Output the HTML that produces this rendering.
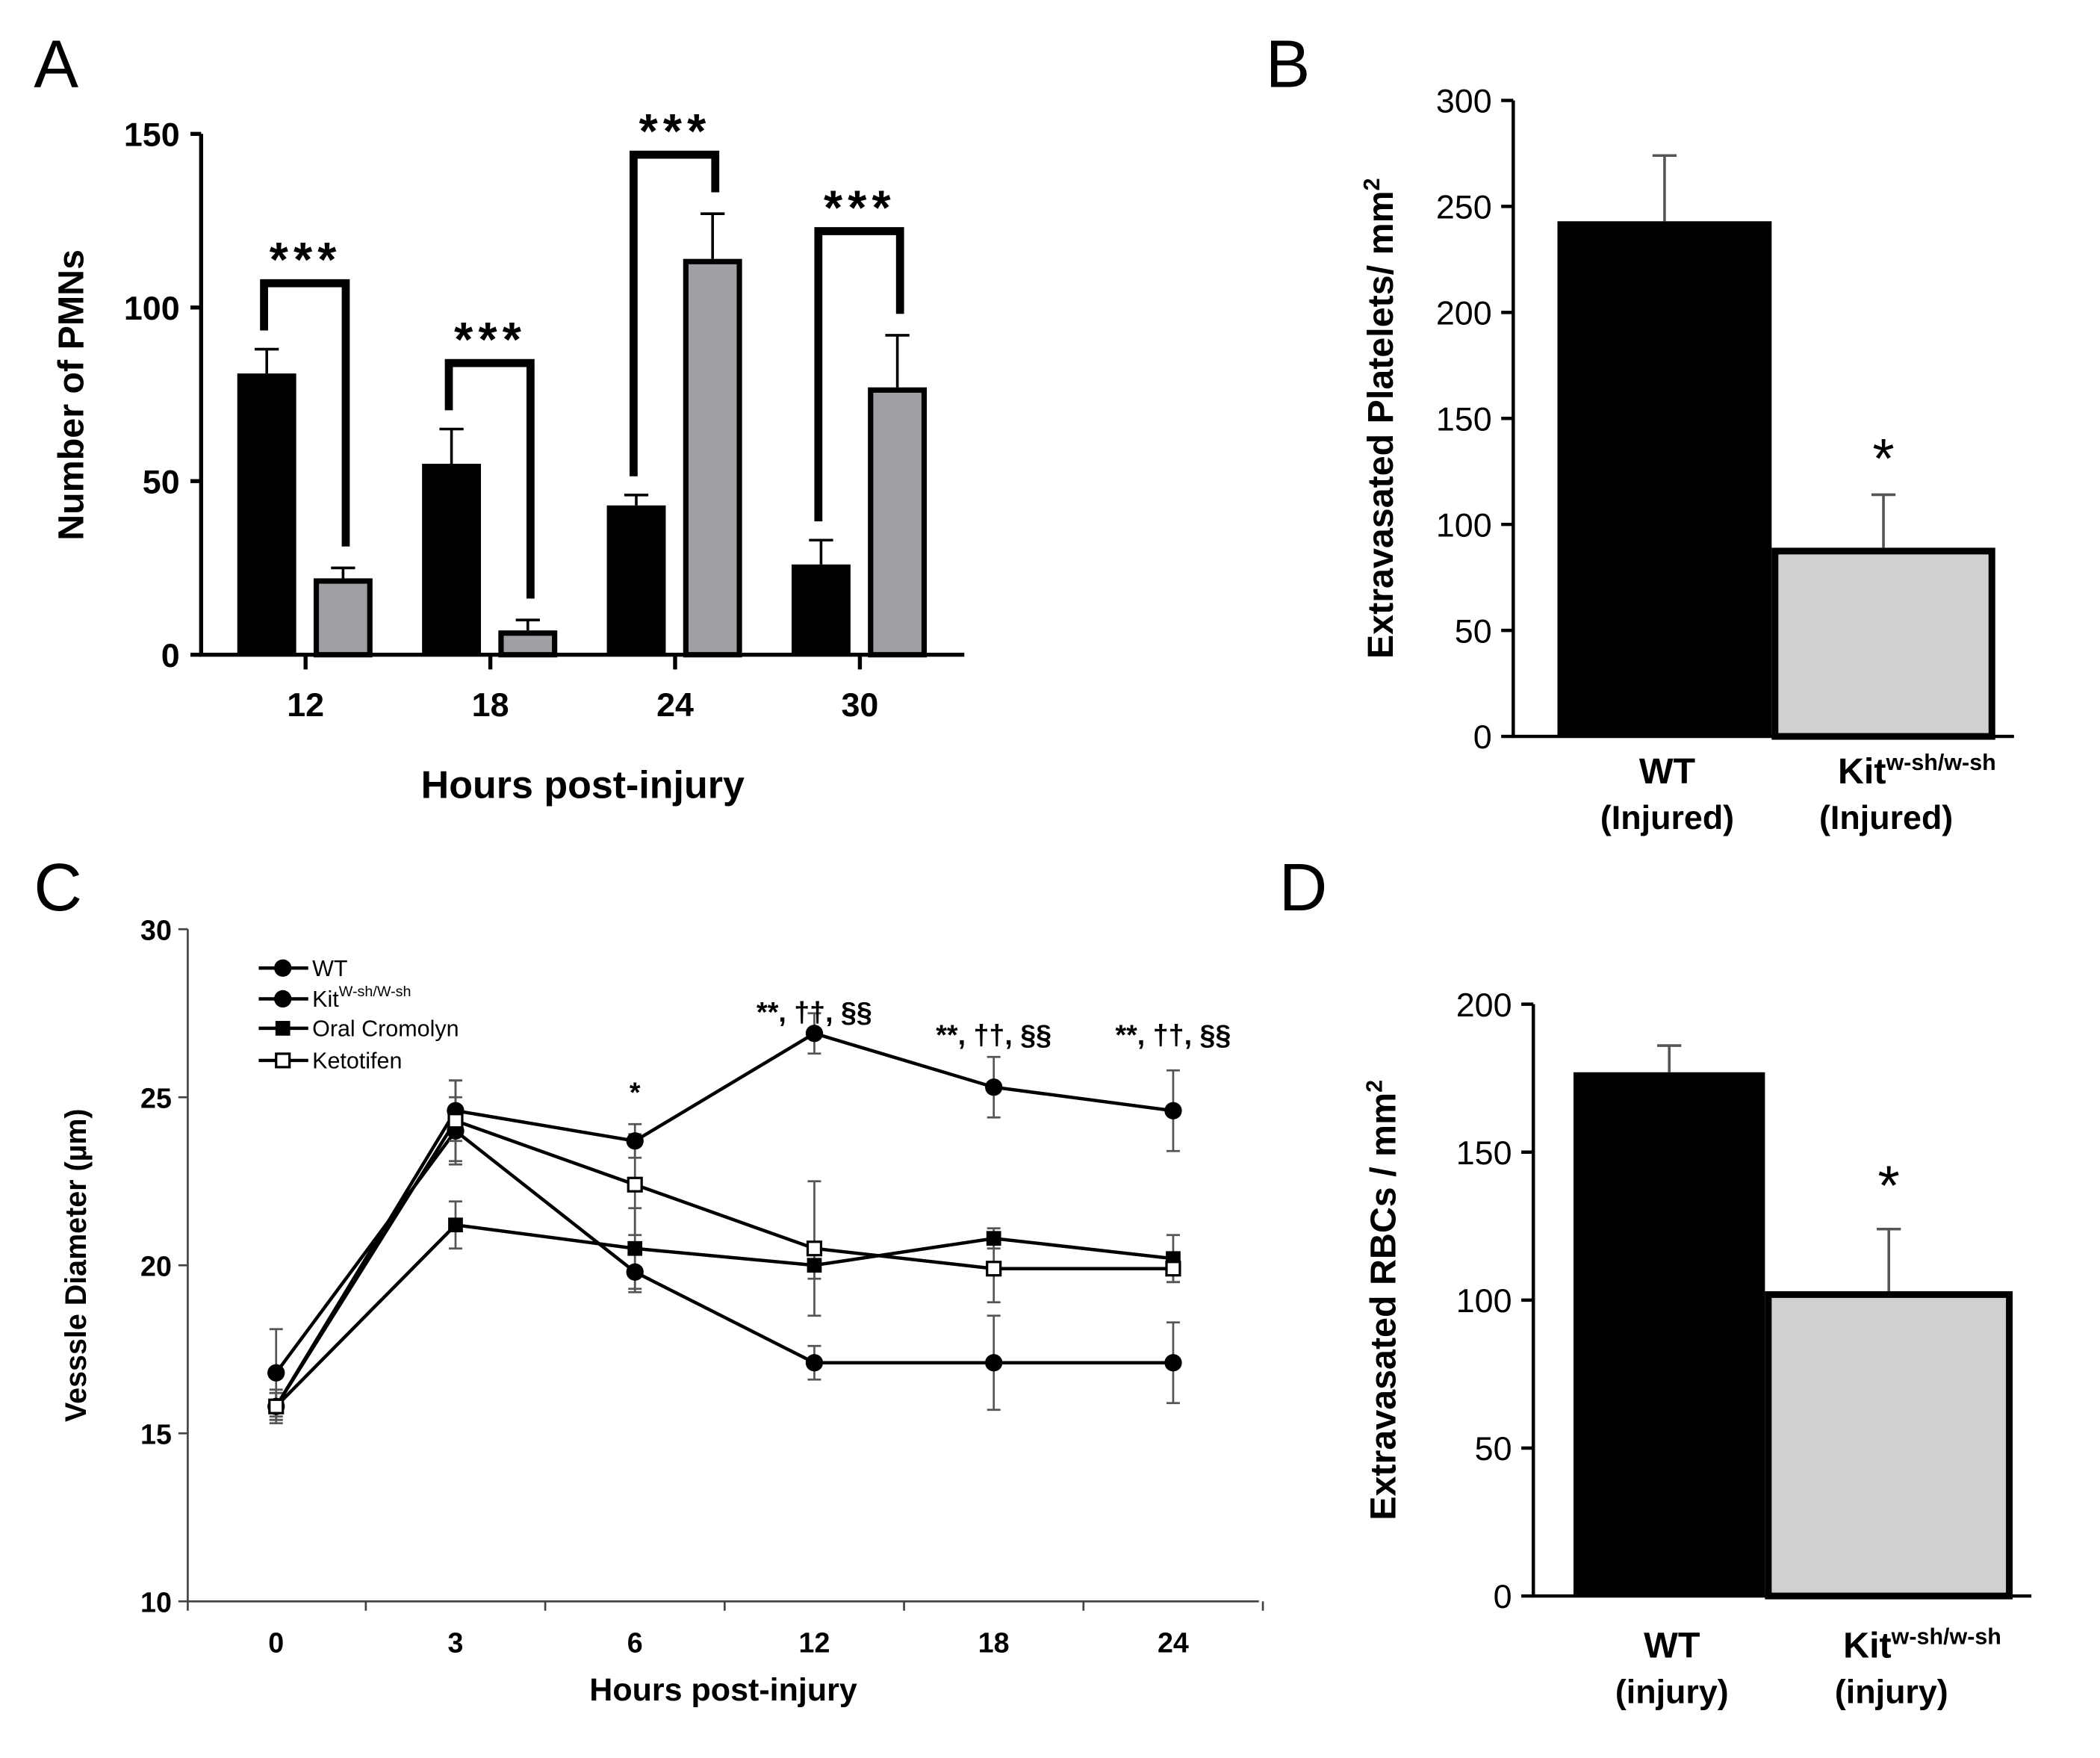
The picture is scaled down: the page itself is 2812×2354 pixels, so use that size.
<!DOCTYPE html>
<html><head><meta charset="utf-8"><style>
html,body{margin:0;padding:0;background:#fff}
svg{display:block;font-family:"Liberation Sans",Arial,sans-serif}
</style></head><body>
<svg id="fig" width="2812" height="2354" viewBox="0 0 1568 1313" xmlns="http://www.w3.org/2000/svg">
<rect width="1568" height="1313" fill="#fff"/>
<g id="pa"></g>
<g id="pb"></g>
<g id="pc"></g>
<g id="pd"></g>
</svg>
<script>
// Panel A data
const aCats = ["12","18","24","30"];
const aWT = [81,55,43,26];
const aWTerr = [7,10,3,7];
const aKit = [22,7,114,77];
const aKitErr = [3,3,13,15];
const aBracket = [107,84,144,122];
const aTicks = [0,50,100,150];
// Panel B data
const bCats = ["WT","Kit"];
const bVals = [243,89];
const bErr = [31,25];
const bTicks = [0,50,100,150,200,250,300];
// Panel C data
const cCats = ["0","3","6","12","18","24"];
const cWT = [16.8,24.0,19.8,17.1,17.1,17.1];
const cWTerr = [1.3,1.0,0.6,0.5,1.4,1.2];
const cKit = [15.8,24.6,23.7,26.9,25.3,24.6];
const cKitErr = [0.5,0.9,0.5,0.6,0.9,1.2];
const cCro = [15.8,21.2,20.5,20.0,20.8,20.2];
const cCroErr = [0.4,0.7,1.2,0.4,0.3,0.7];
const cKet = [15.8,24.3,22.4,20.5,19.9,19.9];
const cKetErr = [0.4,1.2,1.5,2.0,1.0,0.4];
const cTicks = [10,15,20,25,30];
// Panel D data
const dVals = [177,103];
const dErr = [9,21];
const dTicks = [0,50,100,150,200];

const NS="http://www.w3.org/2000/svg";
function mk(parent,tag,attrs,text){const e=document.createElementNS(NS,tag);for(const k in attrs)e.setAttribute(k,attrs[k]);if(text!==undefined)e.textContent=text;parent.appendChild(e);return e;}

// ---------- Panel A ----------
(function(){
const g=document.getElementById('pa');
const y=v=>489-v*(389/150);
const cx=[228,366,504,642];
let t=mk(g,'text',{x:25,y:65,'font-size':50});t.textContent='A';


let ax=mk(g,'path',{d:'M150,100 V489 H720',stroke:'#000','stroke-width':3,fill:'none'});


aTicks.forEach(v=>{
 mk(g,'line',{x1:142,x2:150,y1:y(v),y2:y(v),stroke:'#000','stroke-width':3});
 let tl=mk(g,'text',{x:134,y:y(v)+9,'font-size':25,'font-weight':'bold','text-anchor':'end'},String(v));
 
 
});
aCats.forEach((c,i)=>{
 mk(g,'line',{x1:cx[i],x2:cx[i],y1:489,y2:500,stroke:'#000','stroke-width':3});
 let tl=mk(g,'text',{x:cx[i],y:535,'font-size':25,'font-weight':'bold','text-anchor':'middle'},c);
 
 
 const x1=cx[i]-51, x2=cx[i]+6;
 mk(g,'line',{x1:x1+22,x2:x1+22,y1:y(aWT[i]),y2:y(aWT[i]+aWTerr[i]),stroke:'#000','stroke-width':2});
 mk(g,'line',{x1:x1+13,x2:x1+31,y1:y(aWT[i]+aWTerr[i]),y2:y(aWT[i]+aWTerr[i]),stroke:'#000','stroke-width':2});
 let b=mk(g,'rect',{x:x1,y:y(aWT[i]),width:44,height:489-y(aWT[i]),fill:'#000'});
 
 
 mk(g,'line',{x1:x2+22,x2:x2+22,y1:y(aKit[i]),y2:y(aKit[i]+aKitErr[i]),stroke:'#000','stroke-width':2});
 mk(g,'line',{x1:x2+13,x2:x2+31,y1:y(aKit[i]+aKitErr[i]),y2:y(aKit[i]+aKitErr[i]),stroke:'#000','stroke-width':2});
 let b2=mk(g,'rect',{x:x2+2,y:y(aKit[i])+2,width:40,height:489-y(aKit[i])-2,fill:'#a0a0a4',stroke:'#000','stroke-width':4});
 
 
 const top=aBracket[i];
 const lx=cx[i]-31, rx=cx[i]+30;
 const ly=y(aWT[i]+aWTerr[i])-14, ry=y(aKit[i]+aKitErr[i])-16;
 let br=mk(g,'path',{d:`M${lx},${ly} V${y(top)} H${rx} V${ry}`,stroke:'#000','stroke-width':6,fill:'none'});
 
 
 let s=mk(g,'text',{x:cx[i],y:y(top)-5,'font-size':36,'font-weight':'bold','text-anchor':'middle','letter-spacing':'4'},'***');
 
 
});
let yt=mk(g,'text',{transform:'translate(62,295) rotate(-90)','font-size':27,'font-weight':'bold','text-anchor':'middle'},'Number of PMNs');


let xt=mk(g,'text',{x:435,y:596,'font-size':29,'font-weight':'bold','text-anchor':'middle'},'Hours post-injury');


})();

// ---------- Bar panels B and D ----------
function barPanel(id,letter,lx,ly,axX,y0,yTop,maxV,ticks,vals,errs,bars,ytitle,ytx,sub,labY,starY,pfx){
 const g=document.getElementById(id);
 const y=v=>y0-v*((y0-yTop)/maxV);
 let t=mk(g,'text',{x:lx,y:ly,'font-size':50},letter);
 
 
 let ax=mk(g,'path',{d:`M${axX},${yTop} V${y0} H${bars[1][1]+14}`,stroke:'#000','stroke-width':2.5,fill:'none'});
 
 
 ticks.forEach(v=>{
  mk(g,'line',{x1:axX-9,x2:axX,y1:y(v),y2:y(v),stroke:'#000','stroke-width':2.5});
  let tl=mk(g,'text',{x:axX-16,y:y(v)+9,'font-size':25,'text-anchor':'end'},String(v));
  
  
 });
 vals.forEach((v,i)=>{
  const [x1,x2]=bars[i]; const m=(x1+x2)/2;
  mk(g,'line',{x1:m,x2:m,y1:y(v),y2:y(v+errs[i]),stroke:'#555','stroke-width':2});
  mk(g,'line',{x1:m-9,x2:m+9,y1:y(v+errs[i]),y2:y(v+errs[i]),stroke:'#555','stroke-width':2});
  let b;
  if(i==0) b=mk(g,'rect',{x:x1,y:y(v),width:x2-x1,height:y0-y(v),fill:'#000'});
  else b=mk(g,'rect',{x:x1+2.5,y:y(v)+2.5,width:x2-x1-5,height:y0-y(v)-2.5,fill:'#d0d0d0',stroke:'#000','stroke-width':5});
  
  
  const lxm=i==0?m+2:m+25;
  let l1=mk(g,'text',{x:lxm,y:labY,'font-size':27,'font-weight':'bold','text-anchor':'middle'});
  if(i==0) l1.textContent='WT'; else {l1.textContent='Kit';mk(l1,'tspan',{dy:-10,'font-size':17},'w-sh/w-sh');}
  
  
  let l2=mk(g,'text',{x:i==0?m+2:m+2,y:labY+34,'font-size':25,'font-weight':'bold','text-anchor':'middle'},sub);
  
  
 });
 let st=mk(g,'text',{x:(bars[1][0]+bars[1][1])/2,y:starY,'font-size':42,'text-anchor':'middle'},'*');
 
 
 let yt=mk(g,'text',{transform:`translate(${ytx},${(y0+yTop)/2}) rotate(-90)`,'font-size':27,'font-weight':'bold','text-anchor':'middle'},ytitle);
 mk(yt,'tspan',{dy:-10,'font-size':17},'2');
 
 
}
barPanel('pb','B',945,65,1130,550,75,300,bTicks,bVals,bErr,[[1163,1323],[1323,1490]],'Extravasated Platelets/ mm',1040,'(Injured)',585,357,'b');
barPanel('pd','D',955,680,1145,1192,750,200,dTicks,dVals,dErr,[[1175,1318],[1318,1503]],'Extravasated RBCs / mm',1042,'(injury)',1238,900,'d');

// ---------- Panel C ----------
(function(){
const g=document.getElementById('pc');
const y=v=>1196-(v-10)*(502/20);
const cx=[206,340,474,608,742,876];
let t=mk(g,'text',{x:25,y:680,'font-size':50},'C');


let ax=mk(g,'path',{d:'M140,694 V1196 H940',stroke:'#444','stroke-width':1.5,fill:'none'});


cTicks.forEach(v=>{
 mk(g,'line',{x1:133,x2:140,y1:y(v),y2:y(v),stroke:'#444','stroke-width':1.5});
 let tl=mk(g,'text',{x:128,y:y(v)+8,'font-size':21,'font-weight':'bold','text-anchor':'end'},String(v));
 
 
});
cCats.forEach((c,i)=>{
 mk(g,'line',{x1:cx[i]+67,x2:cx[i]+67,y1:1196,y2:1203,stroke:'#444','stroke-width':1.5});
 let tl=mk(g,'text',{x:cx[i],y:1234,'font-size':21,'font-weight':'bold','text-anchor':'middle'},c);
 
 
});
mk(g,'line',{x1:140,x2:140,y1:1196,y2:1203,stroke:'#444','stroke-width':1.5});
const series=[[cWT,cWTerr,'circle','wt'],[cKit,cKitErr,'circle','kit'],[cCro,cCroErr,'fsquare','cromolyn'],[cKet,cKetErr,'osquare','ketotifen']];
function marker(px,py,type,name){
 let m;
 if(type=='circle') m=mk(g,'circle',{cx:px,cy:py,r:6.5,fill:'#000'});
 else if(type=='fsquare') m=mk(g,'rect',{x:px-5.5,y:py-5.5,width:11,height:11,fill:'#000'});
 else m=mk(g,'rect',{x:px-5,y:py-5,width:10,height:10,fill:'#fff',stroke:'#000','stroke-width':1.8});
 
 
}
series.forEach(([vals,errs,type,nm])=>{
 vals.forEach((v,i)=>{
  mk(g,'line',{x1:cx[i],x2:cx[i],y1:y(v-errs[i]),y2:y(v+errs[i]),stroke:'#555','stroke-width':1.5});
  mk(g,'line',{x1:cx[i]-5,x2:cx[i]+5,y1:y(v-errs[i]),y2:y(v-errs[i]),stroke:'#555','stroke-width':1.5});
  mk(g,'line',{x1:cx[i]-5,x2:cx[i]+5,y1:y(v+errs[i]),y2:y(v+errs[i]),stroke:'#555','stroke-width':1.5});
 });
 let pl=mk(g,'polyline',{points:vals.map((v,i)=>cx[i]+','+y(v)).join(' '),fill:'none',stroke:'#000','stroke-width':2.5});
 
 
});
series.forEach(([vals,errs,type,nm])=>vals.forEach((v,i)=>marker(cx[i],y(v),type,'point-'+nm)));
const leg=[['WT','circle'],['Kit','circle'],['Oral Cromolyn','fsquare'],['Ketotifen','osquare']];
const legY=[723,746,768,792];
leg.forEach(([lab,type],i)=>{
 const ly=legY[i];
 mk(g,'line',{x1:193,x2:230,y1:ly,y2:ly,stroke:'#000','stroke-width':2.5});
 marker(211,ly,type,'legend-marker');
 let tx=mk(g,'text',{x:233,y:ly+6,'font-size':17},lab);
 if(i==1) mk(tx,'tspan',{dy:-8,'font-size':11},'W-sh/W-sh');
 
 
});
const ann=[['*',474,823],['**, ††, §§',608,763],['**, ††, §§',742,780],['**, ††, §§',876,780]];
ann.forEach(([s,x,yy])=>{
 let a=mk(g,'text',{x:x,y:yy,'font-size':21,'text-anchor':'middle','font-weight':'bold'},s);
 
 
});
let yt=mk(g,'text',{transform:'translate(64,945) rotate(-90)','font-size':22,'font-weight':'bold','text-anchor':'middle'},'Vesssle Diameter (µm)');


let xt=mk(g,'text',{x:540,y:1270,'font-size':24,'font-weight':'bold','text-anchor':'middle'},'Hours post-injury');


})();
</script>
</body></html>
